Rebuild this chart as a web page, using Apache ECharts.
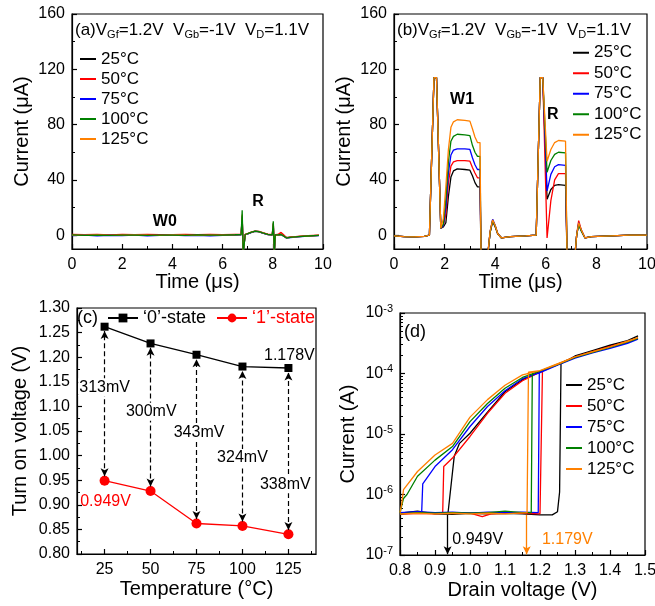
<!DOCTYPE html>
<html><head><meta charset="utf-8">
<script src="https://cdn.jsdelivr.net/npm/echarts@6/dist/echarts.min.js"></script>
<style>html,body{margin:0;padding:0;background:#fff}#c{width:655px;height:606px}</style>
</head><body><div id="c"></div>
<script>
const FONT = 'Liberation Sans, Arial, sans-serif';
const tempNames = ['25°C','50°C','75°C','100°C','125°C'];
const tempColors = ['#000000','#ff0000','#0000ff','#008000','#ff8000'];

// ---------- panel (a): write '0' transient ----------
const tA = [0,0.5,1,1.5,2,2.5,3,3.5,4,4.5,5,5.5,6,6.5,6.74,6.78,6.82,6.86,6.9,7.0,7.15,7.3,7.45,7.6,7.8,7.98,8.02,8.06,8.1,8.2,8.33,8.42,8.55,8.7,9.0,9.4,9.84];
const a25  = [0,0.1,-0.2,0,0.2,-0.1,0,0.2,-0.1,0,0.1,-0.2,0,0.2, 0.4,12,-12,-12,0.4, 1,2,2.8,2.4,1.5,0.5, 0.2,7,-12,0.2, 0.1,0.8,-0.3,-1.8,-1.5,-1,-0.5,-0.1];
const a50  = [0.5,0.3,0.6,0.2,0.5,0.3,0.6,0.4,0.3,0.5,0.4,0.6,0.3,0.5, 0.6,13,-12,-12,0.6, 1.2,2.3,3,2.7,1.8,0.8, 0.4,8,-12,0.4, 0.5,2,0.5,-1.8,-1.4,-0.9,-0.4,0];
const a75  = [-0.3,0,-0.4,-0.1,-0.3,0,-0.4,-0.2,0,-0.3,-0.1,-0.4,-0.2,0, 0.2,14,-13,-13,0.3, 1,2.1,2.9,2.5,1.5,0.4, 0.1,8.5,-13,0, 0,0.4,-0.6,-2.2,-1.8,-1.2,-0.7,-0.3];
const a100 = [0.2,-0.1,0.1,-0.2,0.1,0,-0.2,0.1,0,-0.1,0.2,0,0.1,0.3, 0.5,18,-14,-14,0.5, 1.2,2.2,3,2.6,1.6,0.6, 0.3,10,-14,0.2, 0.2,0.5,-0.5,-2,-1.6,-1,-0.6,-0.2];
const a125 = [0.1,0,0.2,-0.1,0.1,0.2,0,-0.1,0.2,0,-0.1,0.1,0,0.2, 0.4,15,-13,-13,0.4, 1.1,2.2,3,2.6,1.6,0.5, 0.2,9,-13,0.1, 0.1,0.6,-0.4,-2,-1.6,-1.1,-0.6,-0.2];
const annotA = [[3.7,10,'W0'],[7.41,24,'R']];

// ---------- panel (b): write '1' transient ----------
const tB = [0,0.4,0.8,1.2,1.4,1.58,1.68,1.85,1.95,2.05,2.15,2.25,2.35,2.5,2.8,3.0,3.1,3.2,3.3,3.4,3.44,3.7,3.8,3.9,4.0,4.1,4.25,4.6,5.2,5.62,5.78,5.88,6.05,6.2,6.35,6.5,6.78,6.84,7.15,7.22,7.3,7.4,7.55,7.8,8.6,9.3,10];
const b25  = [-0.5,-1,-1.2,-0.9,0,114,114,5,6,9,28,42,46.5,48,47.5,47,43,38,35,35,-15,-15,2,10,6,1,-2,-1,-0.5,0,114,114,26,33,36,36.5,36,-15,-15,0,8,3.5,-2,-1,-0.5,0,0];
const b50  = [-0.5,-1,-1.2,-0.9,0,114,114,5,7,15,38,50,53,54,54,53.5,49,45,41.5,41.5,-15,-15,2.5,11,6.5,1,-2,-1,-0.5,0,114,114,-2,25,40,44.5,44.5,-15,-15,0,10.5,4,-2,-1,-0.5,0,0];
const b75  = [-0.5,-1,-1.2,-0.9,0,114,114,5,7,20,45,58,61.5,62.5,62.5,62,56,51,47.5,47.5,-15,-15,2.5,11.5,7,1,-2,-1,-0.5,0,114,114,32,44,49.5,51,50.5,-15,-15,0,9,3.5,-2,-1,-0.5,0,0];
const b100 = [-0.5,-1,-1.2,-0.9,0,114,114,5,8,26,53,68,71.5,73,72.5,72,65,60,57,57,-15,-15,2,10.5,6.5,1,-2,-1,-0.5,0,114,114,45.5,54,58.5,60,59.5,-15,-15,0,7.5,3,-2,-1,-0.5,0,0];
const b125 = [-0.5,-1,-1.2,-0.9,0,114,114,5,12,35,62,78,82,83.5,83,82.5,77,71,67,67,-15,-15,3,11,7,1,-2,-1,-0.5,0,114,114,53.5,62,67,68.5,68,-15,-15,0,9,4,-2,-1,-0.5,0,0];
const annotB = [[2.69,98,'W1'],[6.28,87,'R']];

// ---------- panel (c): turn-on voltage ----------
const temps = [25,50,75,100,125];
const state0 = [1.262,1.228,1.205,1.181,1.178];
const state1 = [0.949,0.928,0.862,0.857,0.840];
const windowLabels = ['313mV','300mV','343mV','324mV','338mV'];
const windowLabelX = [25,50.4,76.4,100,123.3];
const windowLabelY = [1.139,1.089,1.046,0.995,0.942];
const valueLabelsC = [[125.5,1.204,'1.178V','#000000'],[25.5,0.906,'0.949V','#ff0000']];

// ---------- panel (d): I-V loops ----------
const d25 = [[0.8,4.9e-7],[0.85,5.3e-7],[0.9,4.8e-7],[0.95,4.7e-7],[1.0,4.9e-7],[1.05,4.8e-7],[1.1,4.9e-7],[1.15,4.8e-7],[1.2,4.6e-7],[1.235,4.6e-7],[1.25,5.2e-7],[1.256,1.1e-6],[1.26,1.45e-4],[1.3,1.95e-4],[1.35,2.4e-4],[1.4,2.95e-4],[1.45,3.5e-4],[1.48,4.2e-4],[1.45,3.5e-4],[1.4,2.9e-4],[1.35,2.35e-4],[1.3,1.9e-4],[1.25,1.4e-4],[1.2,1.08e-4],[1.15,7.9e-5],[1.1,5e-5],[1.05,2.3e-5],[1.0,1.03e-5],[0.97,7e-6],[0.955,4.3e-6],[0.937,4.8e-7]];
const d50 = [[0.8,4.7e-7],[0.85,4.9e-7],[0.9,4.8e-7],[0.95,5e-7],[1.0,4.9e-7],[1.035,4.3e-7],[1.06,4.8e-7],[1.1,4.9e-7],[1.15,4.9e-7],[1.2,4.8e-7],[1.205,5e-7],[1.207,1.1e-4],[1.25,1.42e-4],[1.3,1.88e-4],[1.35,2.3e-4],[1.4,2.8e-4],[1.45,3.4e-4],[1.48,3.9e-4],[1.45,3.4e-4],[1.4,2.8e-4],[1.35,2.3e-4],[1.3,1.85e-4],[1.25,1.4e-4],[1.2,1.05e-4],[1.15,7.6e-5],[1.1,4.7e-5],[1.05,2.2e-5],[1.0,9.1e-6],[0.95,4e-6],[0.925,2.9e-6],[0.922,4.9e-7]];
const d75 = [[0.8,5e-7],[0.85,5.2e-7],[0.9,5e-7],[0.95,5.1e-7],[1.0,4.9e-7],[1.05,5.1e-7],[1.1,5e-7],[1.15,5.1e-7],[1.195,5e-7],[1.198,1.05e-4],[1.25,1.38e-4],[1.3,1.8e-4],[1.35,2.2e-4],[1.4,2.6e-4],[1.45,3.2e-4],[1.48,3.7e-4],[1.45,3.15e-4],[1.4,2.6e-4],[1.35,2.2e-4],[1.3,1.8e-4],[1.25,1.38e-4],[1.2,1.03e-4],[1.15,8.2e-5],[1.1,5.2e-5],[1.05,2.85e-5],[1.0,1.33e-5],[0.95,5.5e-6],[0.9,2.9e-6],[0.865,1.5e-6],[0.862,5.2e-7]];
const d100 = [[0.8,4.8e-7],[0.85,5e-7],[0.9,4.9e-7],[0.95,5e-7],[1.0,4.9e-7],[1.05,5e-7],[1.1,5.3e-7],[1.15,5e-7],[1.175,5e-7],[1.178,1.0e-4],[1.2,1.1e-4],[1.25,1.4e-4],[1.3,1.85e-4],[1.35,2.25e-4],[1.4,2.7e-4],[1.45,3.3e-4],[1.48,3.8e-4],[1.4,2.7e-4],[1.3,1.85e-4],[1.2,1.1e-4],[1.15,8.6e-5],[1.1,5.7e-5],[1.05,3.2e-5],[1.0,1.6e-5],[0.95,6.2e-6],[0.9,3.7e-6],[0.85,2e-6],[0.82,1e-6],[0.81,8.6e-7],[0.8,5e-7]];
const d125 = [[0.8,4.8e-7],[0.85,4.9e-7],[0.9,4.8e-7],[0.95,4.9e-7],[1.0,4.8e-7],[1.05,4.9e-7],[1.1,4.8e-7],[1.163,5e-7],[1.167,1.05e-4],[1.2,1.12e-4],[1.25,1.42e-4],[1.3,1.88e-4],[1.35,2.3e-4],[1.4,2.75e-4],[1.45,3.35e-4],[1.48,3.9e-4],[1.4,2.75e-4],[1.3,1.88e-4],[1.2,1.12e-4],[1.15,9.5e-5],[1.1,6.4e-5],[1.05,3.7e-5],[1.0,1.9e-5],[0.95,7e-6],[0.9,4.5e-6],[0.85,2.4e-6],[0.81,1.2e-6],[0.805,7e-7],[0.8,5e-7]];
const arrowsD = [[0.936,4.6e-7,1.03e-7,'#000000'],[1.162,4.6e-7,1.03e-7,'#ff8000']];
const valueLabelsD = [[1.022,1.78e-7,'0.949V','#000000'],[1.278,1.78e-7,'1.179V','#ff8000']];

// ---------- helpers ----------
const pair = (xs, ys) => xs.map((x, i) => [x, ys[i]]);
const aSets = [a25,a50,a75,a100,a125];
const bSets = [b25,b50,b75,b100,b125];
const dSets = [d25,d50,d75,d100,d125];

function mainAxis(o) {
  const base = {
    nameLocation: 'middle', nameMoveOverlap: false,
    nameTextStyle: {fontSize: 20, color: '#000', fontFamily: FONT},
    axisLine: {show: true, onZero: false, lineStyle: {color: '#000', width: 1.2}},
    axisTick: {show: true, inside: true, length: 5, lineStyle: {color: '#000', width: 1.2}},
    minorTick: {show: false},
    axisLabel: {color: '#000', fontSize: 16, margin: 6, fontFamily: FONT},
    splitLine: {show: false}, minorSplitLine: {show: false}
  };
  for (const k in o) {
    if (base[k] && typeof base[k] === 'object' && !Array.isArray(base[k]) && typeof o[k] === 'object' && !Array.isArray(o[k])) base[k] = Object.assign({}, base[k], o[k]);
    else base[k] = o[k];
  }
  return base;
}
function minorAxis(gridIndex, min, max, values, position) {
  return {type: 'value', gridIndex, min, max, position,
    axisLine: {show: false}, splitLine: {show: false},
    axisLabel: {show: false, customValues: values},
    axisTick: {show: true, inside: true, length: 3, customValues: values, lineStyle: {color: '#000', width: 1}}};
}
const logMinor = [];
for (let e = -7; e < -3; e++) for (let k = 2; k <= 9; k++) logMinor.push(e + Math.log10(k));

const labelBase = {show: true, position: 'inside', fontSize: 16, fontFamily: FONT, color: '#000',
  textBorderWidth: 0, textBorderColor: 'transparent', textShadowBlur: 0, opacity: 1};

const series = [];
// (a) green drawn last (on top)
[0,1,2,4,3].forEach(i => series.push({type: 'line', name: tempNames[i], xAxisIndex: 0, yAxisIndex: 0,
  data: pair(tA, aSets[i]), symbol: 'none', color: tempColors[i], lineStyle: {width: 1.3, color: tempColors[i]}, itemStyle: {color: tempColors[i]}}));
// (b)
[0,1,2,3,4].forEach(i => series.push({type: 'line', name: tempNames[i], xAxisIndex: 1, yAxisIndex: 1,
  data: pair(tB, bSets[i]), symbol: 'none', color: tempColors[i], lineStyle: {width: 1.3, color: tempColors[i]}, itemStyle: {color: tempColors[i]}}));
// (d)
[0,1,2,3,4].forEach(i => series.push({type: 'line', name: tempNames[i], xAxisIndex: 3, yAxisIndex: 3,
  data: dSets[i], symbol: 'none', color: tempColors[i], lineStyle: {width: 1.3, color: tempColors[i]}, itemStyle: {color: tempColors[i]}}));

// text labels placed at data coordinates
function textSeries(xi, yi, items, extra) {
  return {type: 'scatter', xAxisIndex: xi, yAxisIndex: yi, symbolSize: 1, silent: true, z: 10,
    itemStyle: {color: '#ffffff', opacity: 0},
    label: Object.assign({}, labelBase, {formatter: p => p.value[2]}, extra || {}),
    data: items.map(it => ({value: [it[0], it[1], it[2]], label: {color: it[3] || '#000000'}}))};
}
series.push(textSeries(0, 0, annotA, {fontWeight: 'bold'}));
series.push(textSeries(1, 1, annotB, {fontWeight: 'bold'}));

// (c)
series.push({type: 'scatter', xAxisIndex: 2, yAxisIndex: 2, data: pair(temps, state0), symbolSize: 0.1, silent: true, z: 1,
  itemStyle: {color: 'rgba(0,0,0,0)'},
  markLine: {silent: true, animation: false, symbol: ['arrow', 'arrow'], symbolSize: [6, 8], label: {show: false},
    lineStyle: {color: '#000', type: [5, 3], width: 1.2},
    data: temps.map((t, i) => [{coord: [t, state1[i] + 0.009]}, {coord: [t, state0[i] - 0.009]}])}});
series.push({type: 'line', name: '\u20180\u2019-state', xAxisIndex: 2, yAxisIndex: 2, data: pair(temps, state0),
  symbol: 'rect', symbolSize: 8, color: '#000', lineStyle: {color: '#000', width: 1.3}, itemStyle: {color: '#000'}, z: 3});
series.push({type: 'line', name: '\u20181\u2019-state', xAxisIndex: 2, yAxisIndex: 2, data: pair(temps, state1),
  symbol: 'circle', symbolSize: 10, color: '#ff0000', lineStyle: {color: '#ff0000', width: 1.3}, itemStyle: {color: '#ff0000'}, z: 3});
series.push(textSeries(2, 2, windowLabels.map((s, i) => [windowLabelX[i], windowLabelY[i], s]), {backgroundColor: '#fff', padding: [1, 1]}));
series.push(textSeries(2, 2, valueLabelsC));

// (d) arrows and labels
series.push({type: 'scatter', xAxisIndex: 3, yAxisIndex: 3, data: arrowsD.map(a => [a[0], a[1]]), symbolSize: 0.1, silent: true,
  itemStyle: {color: 'rgba(0,0,0,0)'},
  markLine: {silent: true, animation: false, symbol: ['none', 'arrow'], symbolSize: [6, 8], label: {show: false},
    data: arrowsD.map(a => [{coord: [a[0], a[1]], lineStyle: {color: a[3], type: 'solid', width: 1.3}, itemStyle: {color: a[3]}}, {coord: [a[0], a[2]], itemStyle: {color: a[3]}}])}});
series.push(textSeries(3, 3, valueLabelsD));

const legendBase = (left, top, lh) => ({
  data: tempNames, orient: 'vertical', left, top, icon: 'rect', itemWidth: 16, itemHeight: 2, itemGap: 0,
  selectedMode: false, padding: 0,
  textStyle: {fontSize: 17, color: '#000', fontFamily: FONT, lineHeight: lh}
});

const header = (label, left) => ({type: 'text', left, top: 20, silent: true,
  style: {text: label + 'V{sub|Gf}=1.2V  V{sub|Gb}=-1V  V{sub|D}=1.1V', fontSize: 17, fontFamily: FONT, fill: '#000', lineHeight: 20,
    rich: {sub: {fontSize: 11, fontFamily: FONT, lineHeight: 12, verticalAlign: 'bottom'}}}});

const option = {
  animation: false,
  backgroundColor: '#fff',
  textStyle: {fontFamily: FONT},
  grid: [
    {left: 72, top: 14, width: 251, height: 235, show: true, borderColor: '#000', borderWidth: 1.2, outerBoundsMode: 'none', containLabel: false},
    {left: 394, top: 14, width: 253, height: 235, show: true, borderColor: '#000', borderWidth: 1.2, outerBoundsMode: 'none', containLabel: false},
    {left: 77, top: 308, width: 239, height: 246, show: true, borderColor: '#000', borderWidth: 1.2, outerBoundsMode: 'none', containLabel: false},
    {left: 400, top: 313, width: 245, height: 242, show: true, borderColor: '#000', borderWidth: 1.2, outerBoundsMode: 'none', containLabel: false}
  ],
  xAxis: [
    mainAxis({type: 'value', gridIndex: 0, min: 0, max: 10, interval: 2, name: 'Time (\u03bcs)', nameGap: 23,
      axisLabel: {margin: 8},
      minorTick: {show: true, splitNumber: 2, length: 3, lineStyle: {color: '#000'}}}),
    mainAxis({type: 'value', gridIndex: 1, min: 0, max: 10, interval: 2, name: 'Time (\u03bcs)', nameGap: 23,
      axisLabel: {margin: 8},
      minorTick: {show: true, splitNumber: 2, length: 3, lineStyle: {color: '#000'}}}),
    mainAxis({type: 'value', gridIndex: 2, min: 10, max: 140, name: 'Temperature (\u00b0C)', nameGap: 25,
      axisLabel: {customValues: temps, margin: 8}, axisTick: {customValues: temps}}),
    mainAxis({type: 'value', gridIndex: 3, min: 0.8, max: 1.5, interval: 0.1, name: 'Drain voltage (V)', nameGap: 25,
      axisLabel: {formatter: v => v.toFixed(1), margin: 8},
      minorTick: {show: true, splitNumber: 2, length: 3, lineStyle: {color: '#000'}}}),
    minorAxis(2, 10, 140, [12.5, 37.5, 62.5, 87.5, 112.5, 137.5], 'bottom')
  ],
  yAxis: [
    mainAxis({type: 'value', gridIndex: 0, min: -10, max: 160, name: 'Current (\u03bcA)', nameGap: 40,
      axisLabel: {customValues: [0, 40, 80, 120, 160], margin: 7}, axisTick: {customValues: [0, 40, 80, 120, 160]}}),
    mainAxis({type: 'value', gridIndex: 1, min: -10, max: 160, name: 'Current (\u03bcA)', nameGap: 40,
      axisLabel: {customValues: [0, 40, 80, 120, 160], margin: 7}, axisTick: {customValues: [0, 40, 80, 120, 160]}}),
    mainAxis({type: 'value', gridIndex: 2, min: 0.8, max: 1.3, interval: 0.05, name: 'Turn on voltage (V)', nameGap: 47,
      axisLabel: {formatter: v => v.toFixed(2), margin: 7},
      minorTick: {show: true, splitNumber: 2, length: 3, lineStyle: {color: '#000'}}}),
    mainAxis({type: 'log', logBase: 10, gridIndex: 3, min: 1e-7, max: 1e-3, name: 'Current (A)', nameGap: 42,
      axisLabel: {margin: 7, lineHeight: 20, formatter: v => '10{sup|' + Math.round(Math.log10(v)) + '}',
        rich: {sup: {fontSize: 11, lineHeight: 12, verticalAlign: 'top', fontFamily: FONT}}}}),
    minorAxis(0, -10, 160, [20, 60, 100, 140], 'left'),
    minorAxis(1, -10, 160, [20, 60, 100, 140], 'left'),
    minorAxis(3, -7, -3, logMinor, 'left')
  ],
  legend: [
    legendBase(80, 49, 20),
    legendBase(573, 42.5, 20.5),
    legendBase(566, 374.5, 21),
    {data: [{name: '\u20180\u2019-state', textStyle: {color: '#000'}}, {name: '\u20181\u2019-state', textStyle: {color: '#ff0000'}}],
      orient: 'horizontal', left: 107, top: 308, itemWidth: 30, itemHeight: 11, itemGap: 10, selectedMode: false, padding: 0,
      textStyle: {fontSize: 18, fontFamily: FONT, lineHeight: 20}}
  ],
  graphic: [
    header('(a)', 75),
    header('(b)', 397),
    {type: 'text', left: 77, top: 308, silent: true, style: {text: '(c)', fontSize: 18, fontFamily: FONT, fill: '#000', lineHeight: 20}},
    {type: 'text', left: 404, top: 322, silent: true, style: {text: '(d)', fontSize: 18, fontFamily: FONT, fill: '#000', lineHeight: 20}}
  ],
  series
};
const chart = echarts.init(document.getElementById('c'), null, {renderer: 'canvas'});
chart.setOption(option);
</script>
</body></html>
